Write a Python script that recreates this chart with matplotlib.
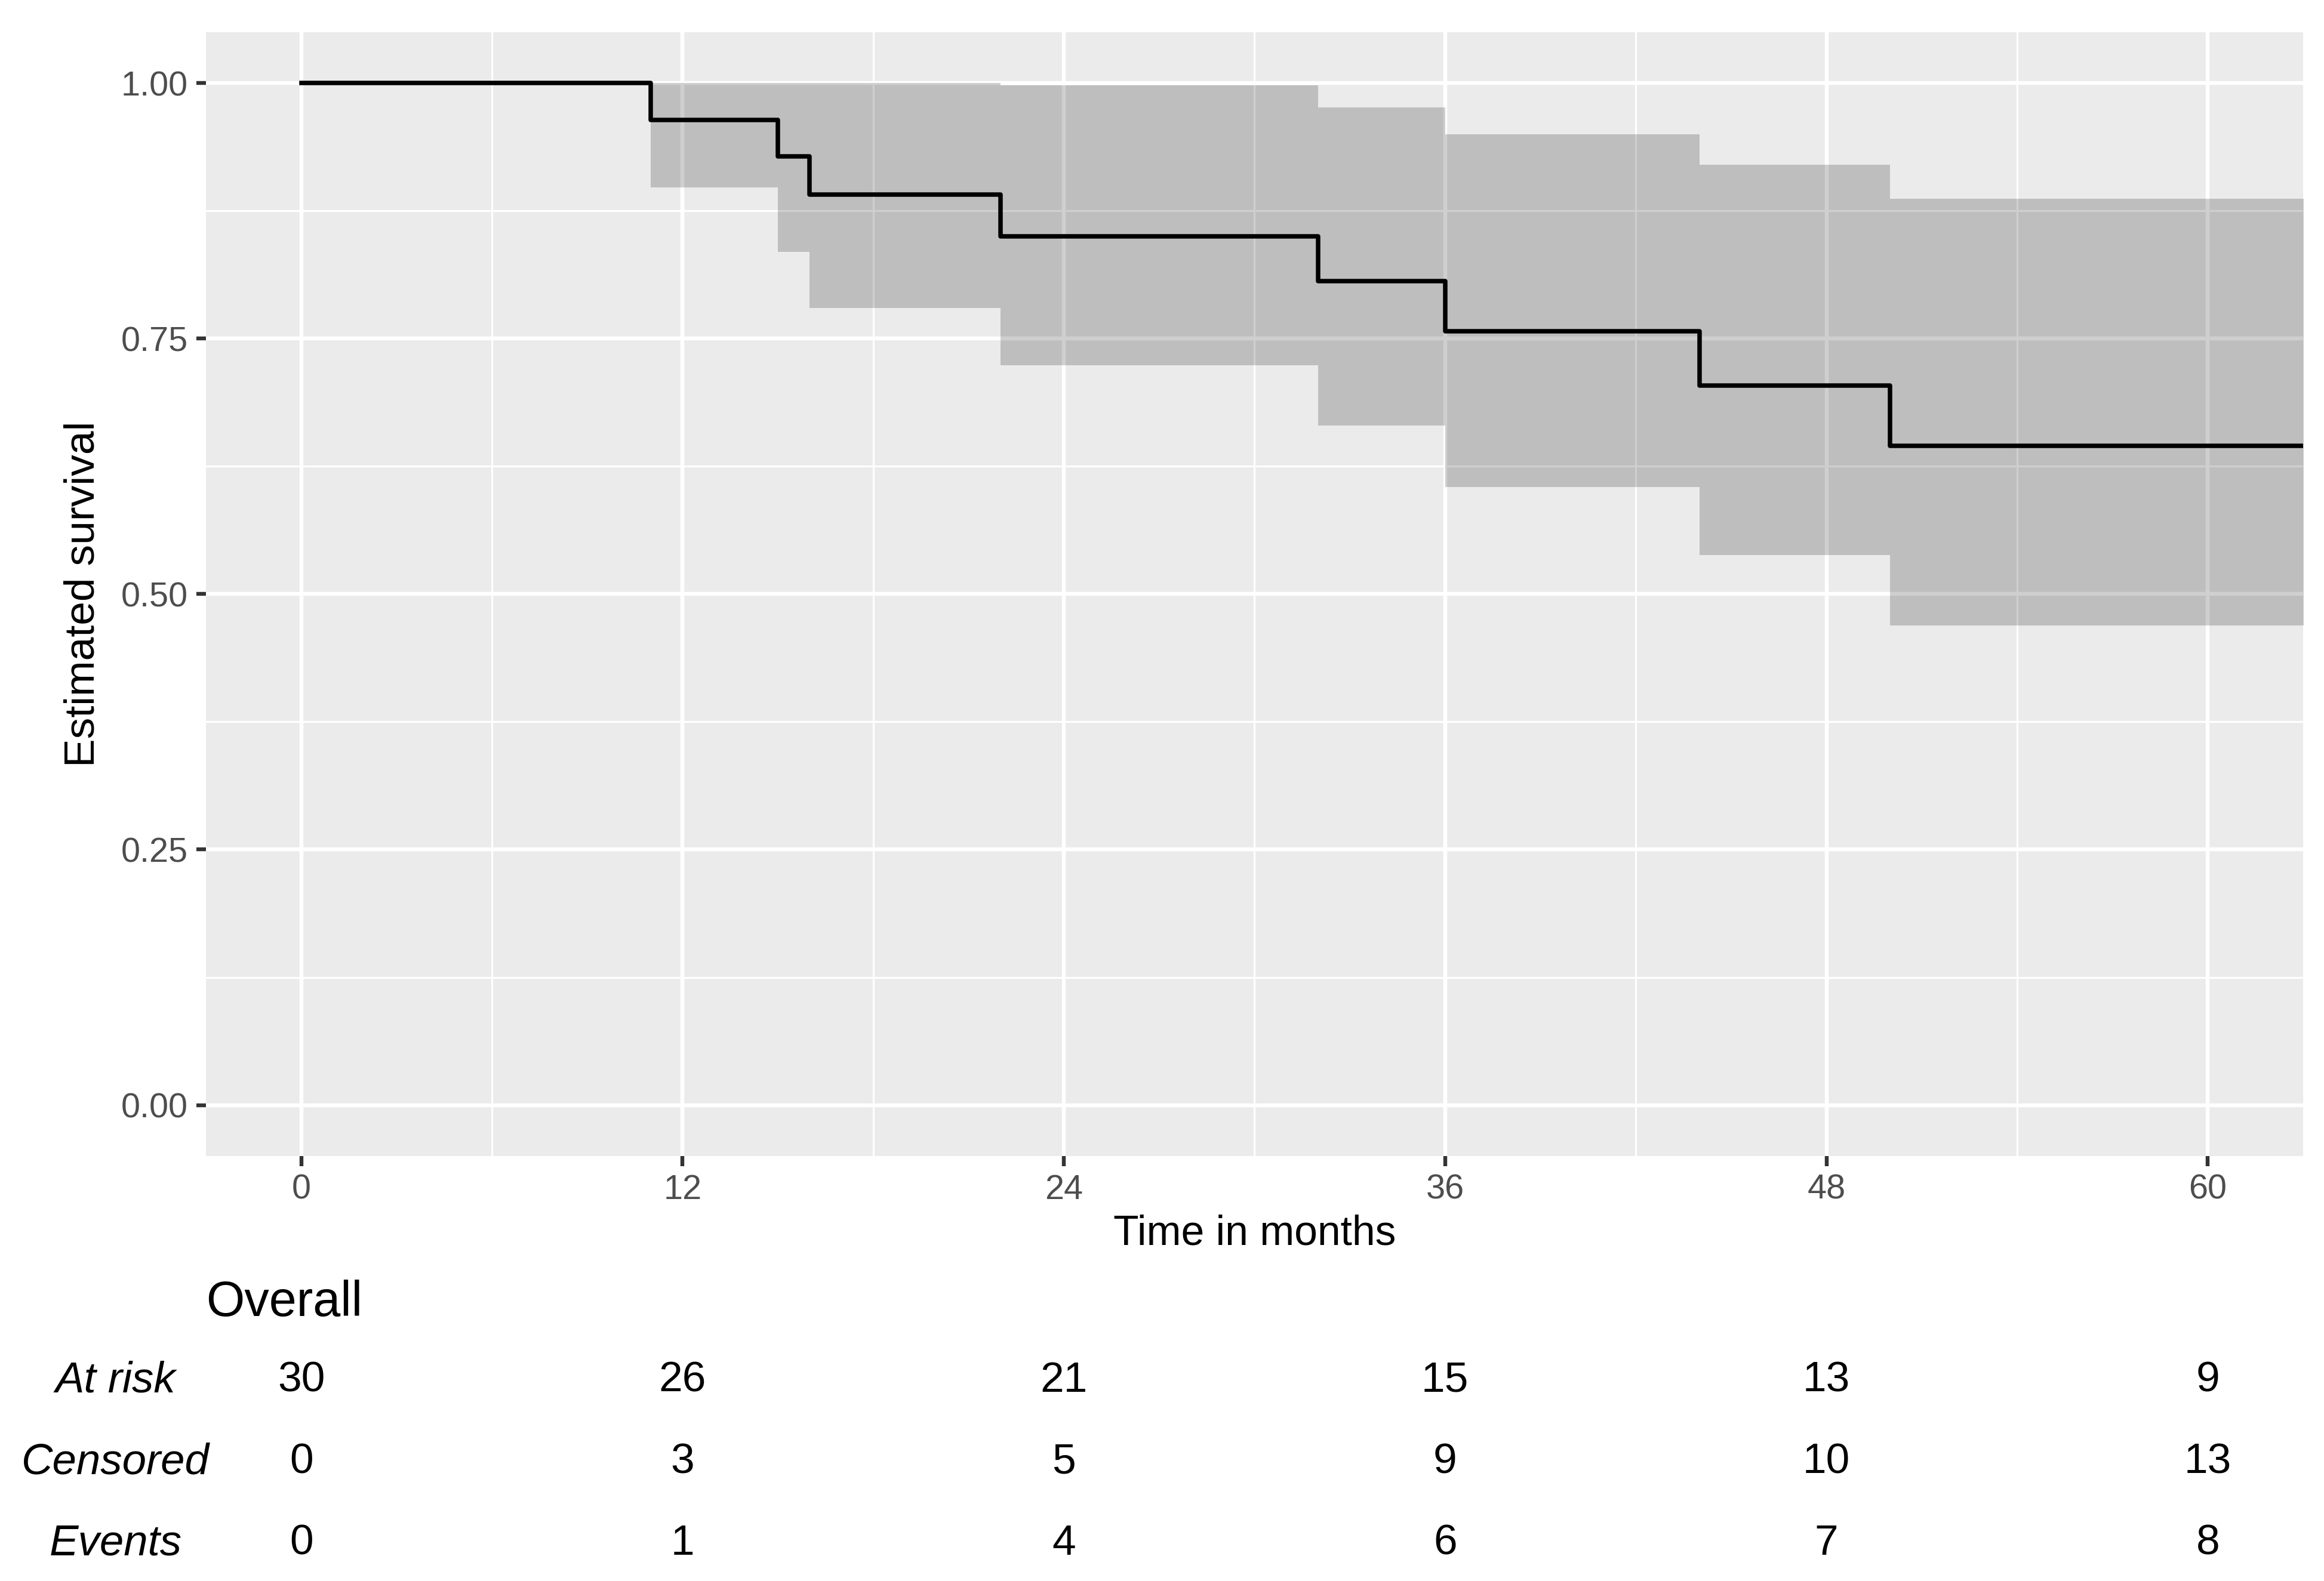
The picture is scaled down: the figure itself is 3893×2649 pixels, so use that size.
import matplotlib
matplotlib.use("Agg")
import matplotlib.pyplot as plt
from matplotlib.ticker import MultipleLocator
from matplotlib.transforms import blended_transform_factory

# ── Kaplan-Meier estimate ─────────────────────────────────────────────────────
step_times = [0, 11, 15, 16, 22, 32, 36, 44, 50, 65]
surv       = [1.0, 0.964, 0.928, 0.891, 0.850, 0.806, 0.757, 0.704, 0.645, 0.645]
ci_lower   = [1.0, 0.898, 0.835, 0.780, 0.724, 0.665, 0.605, 0.538, 0.469, 0.469]
ci_upper   = [1.0, 1.0, 1.0, 1.0, 0.998, 0.976, 0.950, 0.920, 0.887, 0.887]

# ── Risk table ────────────────────────────────────────────────────────────────
table_times = [0, 12, 24, 36, 48, 60]
at_risk     = [30, 26, 21, 15, 13, 9]
censored    = [0, 3, 5, 9, 10, 13]
events      = [0, 1, 4, 6, 7, 8]
row_labels  = ["At risk", "Censored", "Events"]

plt.rcParams["font.family"] = ["Liberation Sans", "DejaVu Sans"]

DPI = 432
fig = plt.figure(figsize=(3893 / DPI, 2649 / DPI), dpi=DPI)
ax = fig.add_axes([0.0886, 0.2687, 0.991 - 0.0886, 0.9798 - 0.2687])

ax.set_facecolor("#EBEBEB")
for s in ax.spines.values():
    s.set_visible(False)

ax.set_xlim(-3, 63)
ax.set_ylim(-0.05, 1.05)
ax.xaxis.set_major_locator(MultipleLocator(12))
ax.xaxis.set_minor_locator(MultipleLocator(6))
ax.yaxis.set_major_locator(MultipleLocator(0.25))
ax.yaxis.set_minor_locator(MultipleLocator(0.125))
ax.yaxis.set_major_formatter(lambda v, p: f"{v:.2f}")

ax.set_axisbelow(True)
ax.grid(which="major", color="white", linewidth=1.07)
ax.grid(which="minor", color="white", linewidth=0.53)
ax.tick_params(which="major", direction="out", length=2.75, width=1.07,
               color="#333333", labelcolor="#4D4D4D", labelsize=9.6, pad=2.2)
ax.tick_params(which="minor", length=0)

# confidence band + step curve
ax.fill_between(step_times, ci_lower, ci_upper, step="post",
                color="black", alpha=0.19, linewidth=0)
ax.step(step_times, surv, where="post", color="black", linewidth=1.25)

ax.set_xlabel("Time in months", fontsize=11.6, labelpad=2.2)
ax.set_ylabel("Estimated survival", fontsize=11.9, labelpad=5.0)

# ── Risk table below the panel ────────────────────────────────────────────────
fig.text(0.0886, 0.176, "Overall", fontsize=13.8, va="center", ha="left")

trans = blended_transform_factory(ax.transData, fig.transFigure)
row_y = [0.1265, 0.0750, 0.0235]
for label, vals, y in zip(row_labels, [at_risk, censored, events], row_y):
    fig.text(0.0497, y, label, fontsize=12.1, style="italic",
             ha="center", va="center")
    for t, v in zip(table_times, vals):
        ax.text(t, y, str(v), transform=trans, fontsize=11.9,
                ha="center", va="center", clip_on=False)

fig.savefig("out.png", dpi=DPI)
